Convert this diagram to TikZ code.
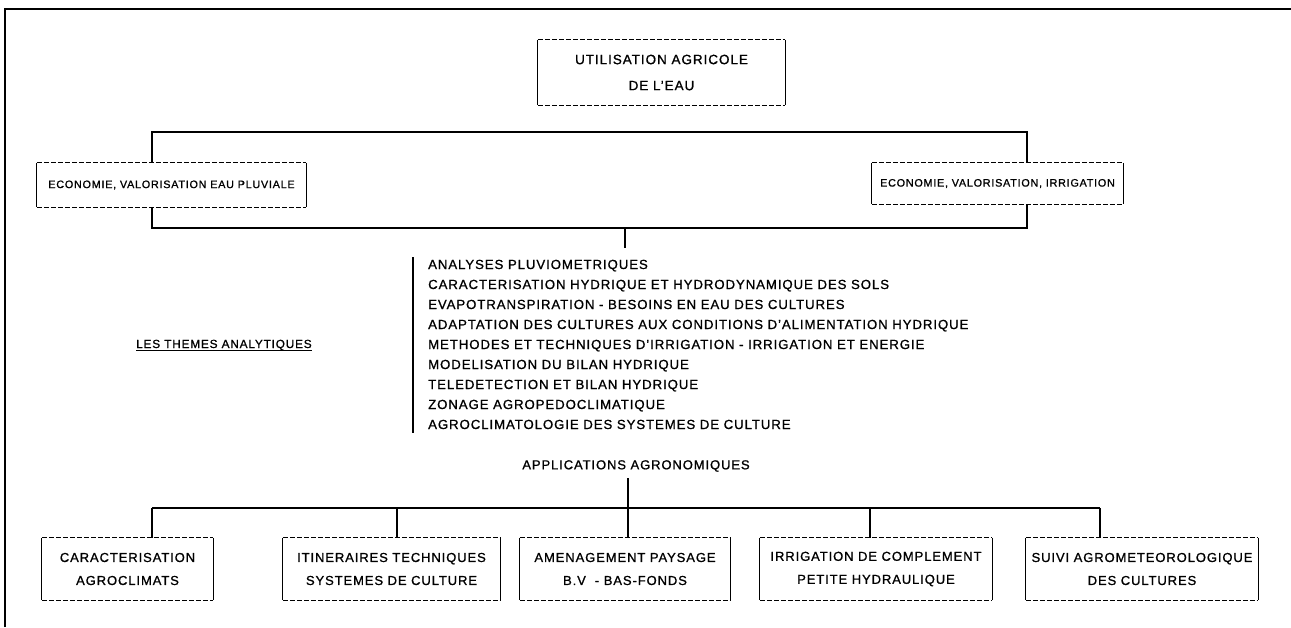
\documentclass[tikz,border=0pt]{standalone}
\usepackage{fontspec}
\setmainfont{Liberation Sans}[LetterSpace=7,FakeBold=1]
\newcommand\dashframe[1]{%
  \draw[hdash] (#1.north west) -- (#1.north east) (#1.south west) -- (#1.south east);
  \draw[vside] (#1.north west) -- (#1.south west) (#1.north east) -- (#1.south east);}
\begin{document}
\begin{tikzpicture}[x=1pt,y=-1pt,
  hdash/.style={line width=1.2pt,dash pattern=on 5pt off 2pt},
  vside/.style={line width=1.3pt},
  conn/.style={line width=1.3pt},
  frame/.style={line width=1.6pt},
  bx/.style={inner sep=0pt,align=center,font=\fontsize{13}{23}\selectfont},
  ubx/.style={inner sep=0pt,align=center,font=\fontsize{10.8}{14}\selectfont},
  item/.style={inner sep=0pt,anchor=base west,font=\fontsize{13.2}{15}\selectfont},
  lbl/.style={inner sep=0pt,font=\fontsize{13}{15}\selectfont}]
\useasboundingbox (0,0) rectangle (1291,627);
% frame
\coordinate (f1) at (5,627);
\coordinate (f2) at (5,9);
\coordinate (f3) at (1291,9);
\draw[frame] (f1) -- (f2) -- (f3);
% top
\node[bx,minimum width=247pt,minimum height=65pt,font=\fontsize{13.5}{26}\selectfont] (top) at (661.5,72.5) {UTILISATION AGRICOLE\\DE L'EAU};
\dashframe{top}
% second level
\node[ubx,minimum width=269pt,minimum height=44pt] (eco1) at (171.5,185) {ECONOMIE, VALORISATION EAU PLUVIALE};
\node[ubx,minimum width=251pt,minimum height=41pt] (eco2) at (997.5,183.5) {ECONOMIE, VALORISATION, IRRIGATION};
\dashframe{eco1}
\dashframe{eco2}
\coordinate (ul) at (152,132);
\coordinate (ur) at (1027,132);
\coordinate (ll) at (152,228);
\coordinate (lr) at (1027,228);
\coordinate (lc) at (625,228);
\coordinate (lcb) at (625,248);
\draw[conn] (eco1.north -| ul) -- (ul) -- (ur) -- (eco2.north -| ur);
\draw[conn] (eco1.south -| ll) -- (ll) -- (lr) -- (eco2.south -| lr);
\draw[conn] (lc) -- (lcb);
% list
\coordinate (bt) at (413,257);
\coordinate (bb) at (413,433);
\draw[line width=1.8pt] (bt) -- (bb);
\node[item] (t1) at (428,269) {ANALYSES PLUVIOMETRIQUES};
\node[item] (t2) at (428,289) {CARACTERISATION HYDRIQUE ET HYDRODYNAMIQUE DES SOLS};
\node[item] (t3) at (428,309) {EVAPOTRANSPIRATION - BESOINS EN EAU DES CULTURES};
\node[item] (t4) at (428,329) {ADAPTATION DES CULTURES AUX CONDITIONS D'ALIMENTATION HYDRIQUE};
\node[item] (t5) at (428,349) {METHODES ET TECHNIQUES D'IRRIGATION - IRRIGATION ET ENERGIE};
\node[item] (t6) at (428,369) {MODELISATION DU BILAN HYDRIQUE};
\node[item] (t7) at (428,389) {TELEDETECTION ET BILAN HYDRIQUE};
\node[item] (t8) at (428,409) {ZONAGE AGROPEDOCLIMATIQUE};
\node[item] (t9) at (428,429) {AGROCLIMATOLOGIE DES SYSTEMES DE CULTURE};
% themes label
\node[lbl,anchor=base west,font=\fontsize{11.8}{15}\selectfont] (themes) at (136,348) {LES THEMES ANALYTIQUES};
\draw[line width=1.1pt] ([yshift=-2.5pt]themes.base west) -- ([yshift=-2.5pt]themes.base east);
% applications
\node[lbl] (app) at (636,466) {APPLICATIONS AGRONOMIQUES};
\coordinate (at) at (628,478);
\coordinate (b1) at (152,508);
\coordinate (b2) at (397,508);
\coordinate (b3) at (628,508);
\coordinate (b4) at (870,508);
\coordinate (b5) at (1100,508);
\draw[conn] (at) -- (b3);
\draw[conn] (b1) -- (b5);
\node[bx,minimum width=171pt,minimum height=62pt] (c1) at (127.5,569) {CARACTERISATION\\AGROCLIMATS};
\node[bx,minimum width=217pt,minimum height=62pt] (c2) at (391.5,569) {ITINERAIRES TECHNIQUES\\SYSTEMES DE CULTURE};
\node[bx,minimum width=210pt,minimum height=62pt] (c3) at (625,569) {AMENAGEMENT PAYSAGE\\B.V\ \ - BAS-FONDS};
\node[bx,minimum width=232pt,minimum height=62pt] (c4) at (876,569) {IRRIGATION DE COMPLEMENT\\PETITE HYDRAULIQUE};
\node[bx,minimum width=232pt,minimum height=62pt] (c5) at (1142,569) {SUIVI AGROMETEOROLOGIQUE\\DES CULTURES};
\foreach \i in {1,...,5} {\dashframe{c\i}}
\draw[conn] (b1) -- (b1 |- c1.north);
\draw[conn] (b2) -- (b2 |- c2.north);
\draw[conn] (b3) -- (b3 |- c3.north);
\draw[conn] (b4) -- (b4 |- c4.north);
\draw[conn] (b5) -- (b5 |- c5.north);
\end{tikzpicture}
\end{document}
